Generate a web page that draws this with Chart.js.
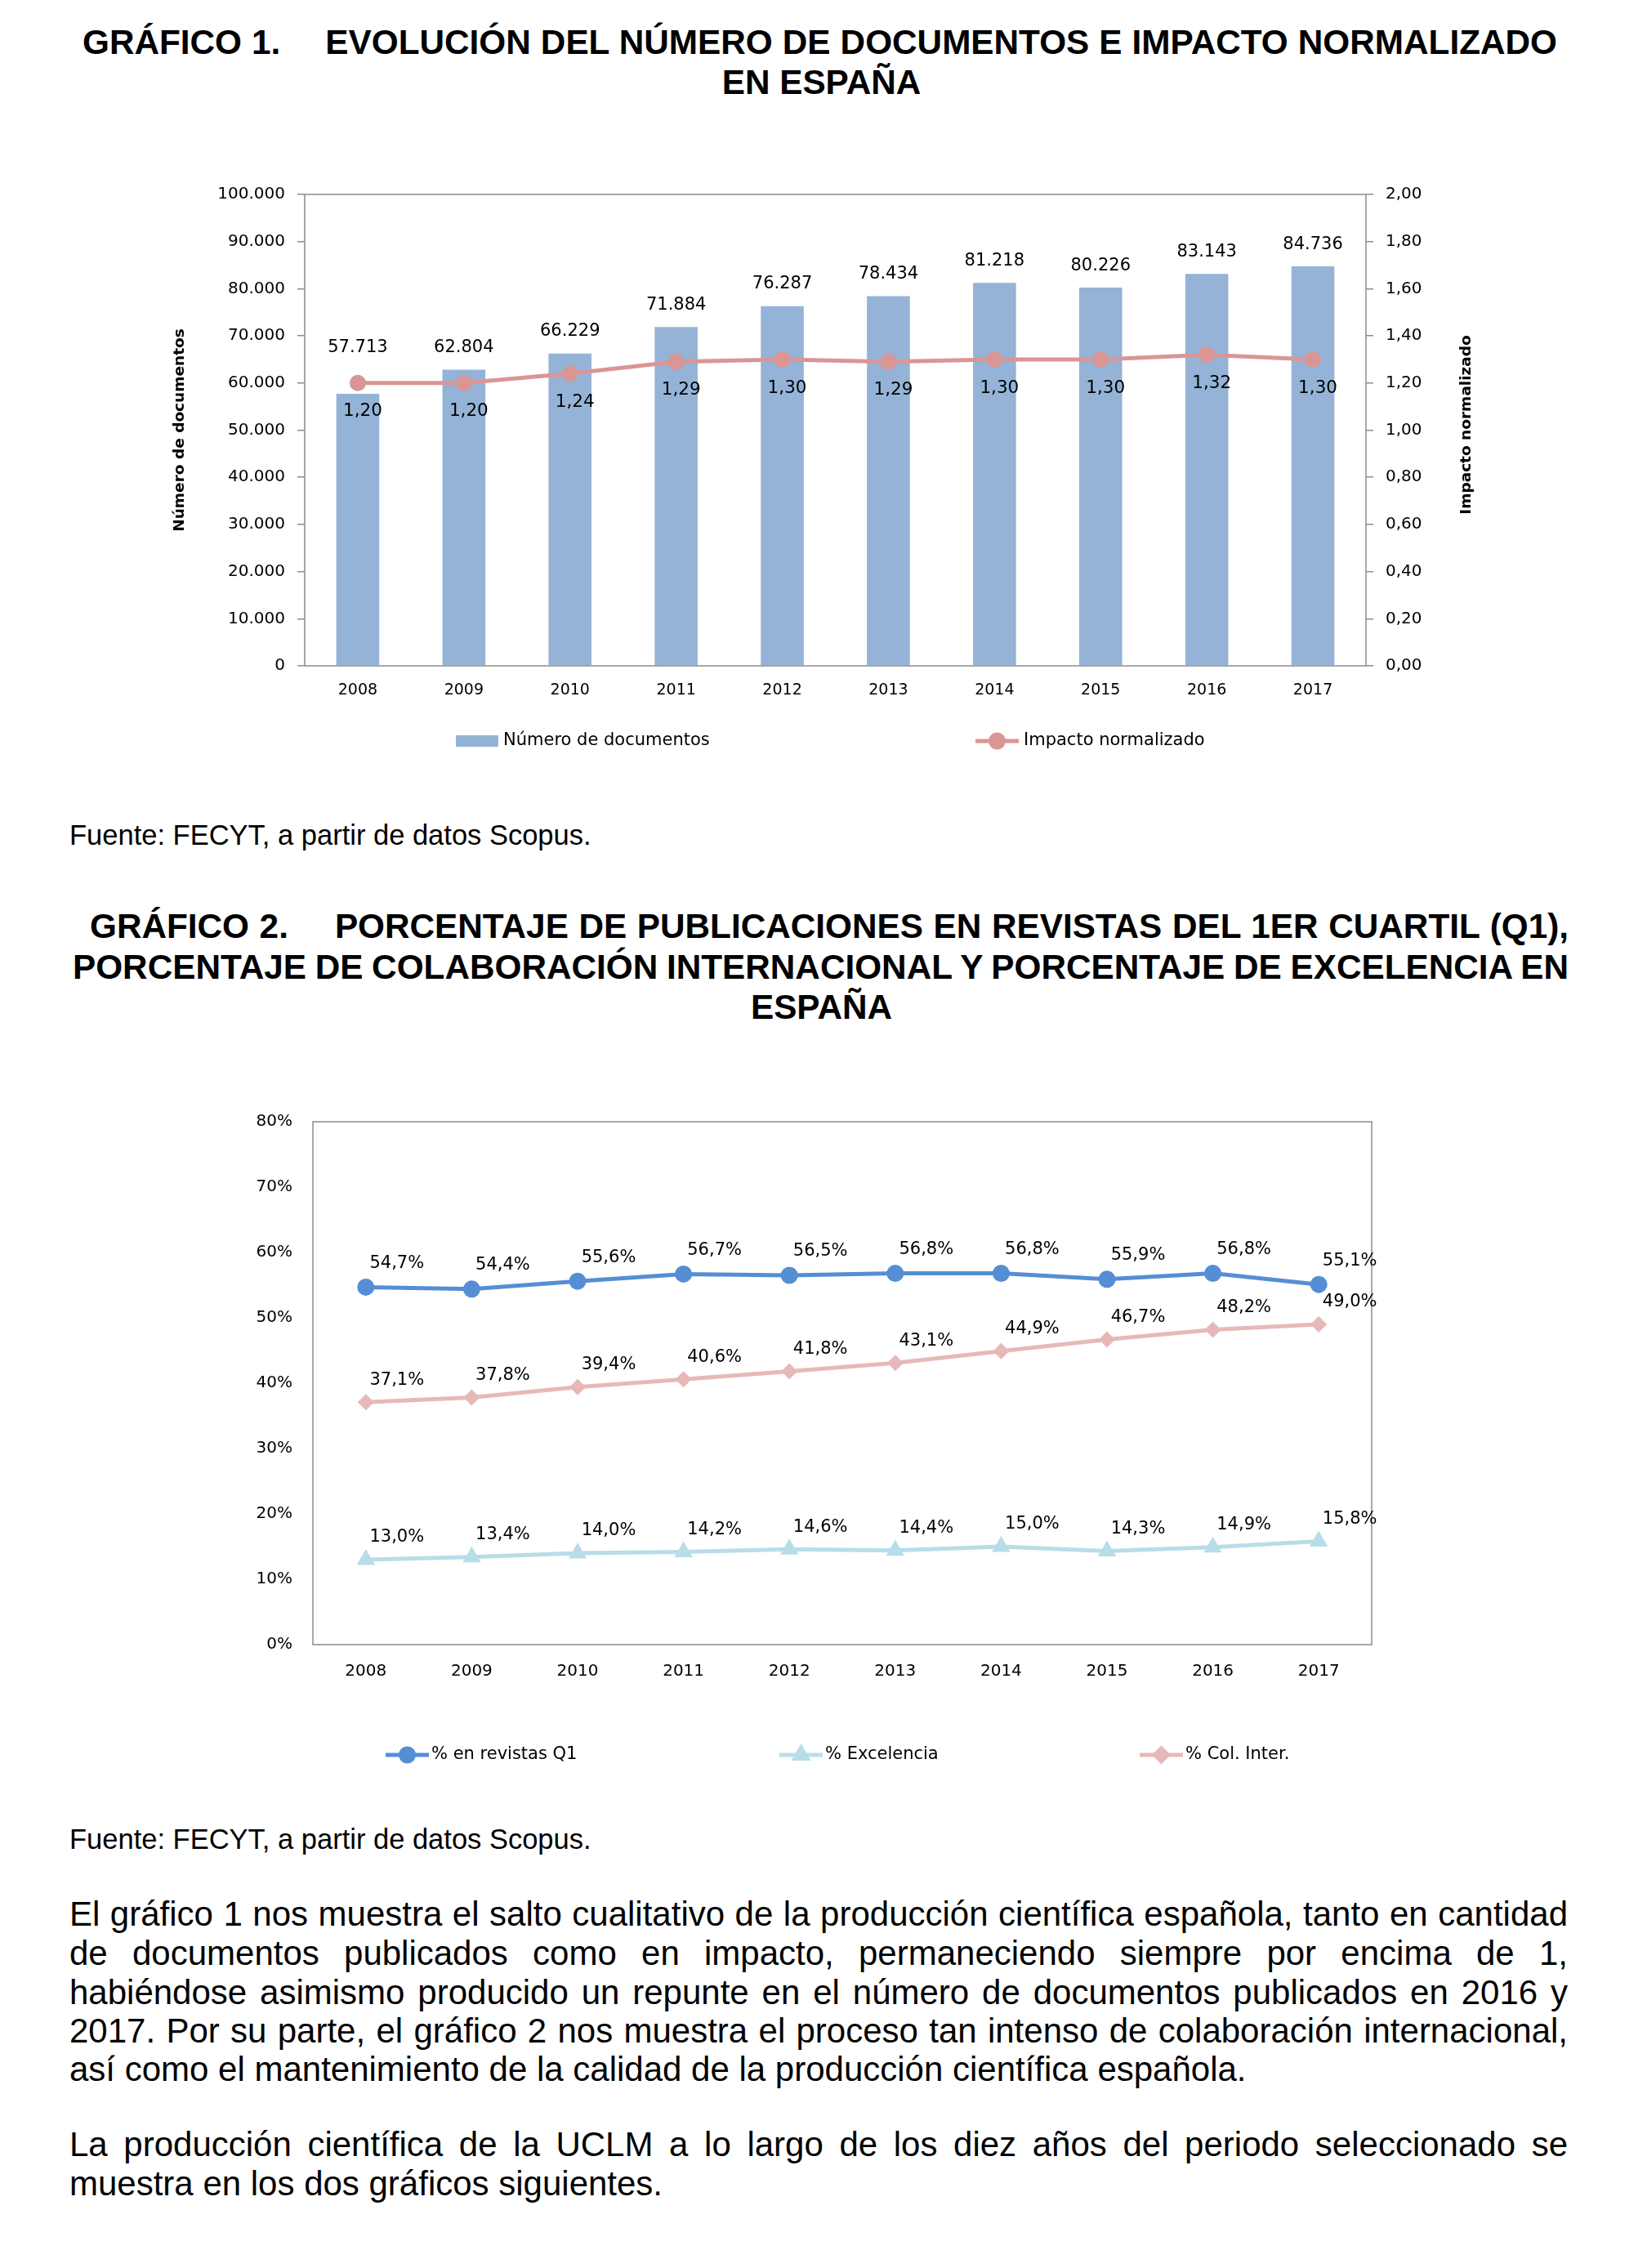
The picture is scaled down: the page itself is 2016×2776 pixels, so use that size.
<!DOCTYPE html>
<html lang="es"><head><meta charset="utf-8">
<script src="https://cdn.jsdelivr.net/npm/chart.js@4.4.0/dist/chart.umd.min.js"></script>
<style>
html,body{margin:0;padding:0;background:#fff;}
body{width:2016px;height:2776px;position:relative;overflow:hidden;font-family:"Liberation Sans",Arial,sans-serif;color:#000;}
.t{position:absolute;font-weight:bold;font-size:42.3px;line-height:1.15;white-space:nowrap;}
.c{text-align:center;left:85px;width:1841px;}
.p{position:absolute;font-size:42px;line-height:1.15;white-space:nowrap;left:85px;}
.f{position:absolute;left:85px;font-size:34.5px;line-height:1.15;white-space:nowrap;}
.gap{display:inline-block;}
#c1wrap{position:absolute;left:0;top:150px;width:2016px;height:820px;}
#c2wrap{position:absolute;left:0;top:1300px;width:2016px;height:900px;}
</style></head>
<body>
<div class="t" style="left:101px;top:28px;" data-w="1805">GRÁFICO 1.<span class="gap" style="width:55px"></span>EVOLUCIÓN DEL NÚMERO DE DOCUMENTOS E IMPACTO NORMALIZADO</div>
<div class="t c" style="top:77px;">EN ESPAÑA</div>

<div id="c1wrap"><canvas id="c1"></canvas></div>

<div class="f" style="top:1003px;">Fuente: FECYT, a partir de datos Scopus.</div>

<div class="t" style="left:110px;top:1110px;" data-w="1810">GRÁFICO 2.<span class="gap" style="width:57px"></span>PORCENTAJE DE PUBLICACIONES EN REVISTAS DEL 1ER CUARTIL (Q1),</div>
<div class="t" style="left:89px;top:1160px;" data-w="1831">PORCENTAJE DE COLABORACIÓN INTERNACIONAL Y PORCENTAJE DE EXCELENCIA EN</div>
<div class="t c" style="top:1209px;">ESPAÑA</div>

<div id="c2wrap"><canvas id="c2"></canvas></div>

<div class="f" style="top:2232px;">Fuente: FECYT, a partir de datos Scopus.</div>

<div class="p" style="top:2319px;" data-w="1834">El gráfico 1 nos muestra el salto cualitativo de la producción científica española, tanto en cantidad</div>
<div class="p" style="top:2367px;" data-w="1834">de documentos publicados como en impacto, permaneciendo siempre por encima de 1,</div>
<div class="p" style="top:2415px;" data-w="1834">habiéndose asimismo producido un repunte en el número de documentos publicados en 2016 y</div>
<div class="p" style="top:2462px;" data-w="1834">2017. Por su parte, el gráfico 2 nos muestra el proceso tan intenso de colaboración internacional,</div>
<div class="p" style="top:2509px;">así como el mantenimiento de la calidad de la producción científica española.</div>

<div class="p" style="top:2601px;" data-w="1834">La producción científica de la UCLM a lo largo de los diez años del periodo seleccionado se</div>
<div class="p" style="top:2649px;">muestra en los dos gráficos siguientes.</div>

<script>
// ---------- DATA ----------
const years = ['2008','2009','2010','2011','2012','2013','2014','2015','2016','2017'];
const numDocumentos = [57713, 62804, 66229, 71884, 76287, 78434, 81218, 80226, 83143, 84736];
const impactoNormalizado = [1.20, 1.20, 1.24, 1.29, 1.30, 1.29, 1.30, 1.30, 1.32, 1.30];

const pctQ1 = [54.7, 54.4, 55.6, 56.7, 56.5, 56.8, 56.8, 55.9, 56.8, 55.1];
const pctExcelencia = [13.0, 13.4, 14.0, 14.2, 14.6, 14.4, 15.0, 14.3, 14.9, 15.8];
const pctColInter = [37.1, 37.8, 39.4, 40.6, 41.8, 43.1, 44.9, 46.7, 48.2, 49.0];

const docsTicks = [0, 10000, 20000, 30000, 40000, 50000, 60000, 70000, 80000, 90000, 100000];
const impactoTicks = [0, 0.2, 0.4, 0.6, 0.8, 1.0, 1.2, 1.4, 1.6, 1.8, 2.0];
const pctTicks = [0, 10, 20, 30, 40, 50, 60, 70, 80];

// ---------- text fitting (justified lines) ----------
document.querySelectorAll('[data-w]').forEach(el => {
  const target = +el.dataset.w;
  el.style.wordSpacing = '0px';
  const nat = el.getBoundingClientRect().width;
  const n = (el.textContent.match(/ /g) || []).length;
  if (n) el.style.wordSpacing = ((target - nat) / n) + 'px';
});

// ---------- helpers ----------
const fmtThousands = v => String(Math.round(v)).replace(/\B(?=(\d{3})+(?!\d))/g, '.');
const fmtDec = (v, d) => Number(v).toFixed(d).replace('.', ',');
const FONT = "'DejaVu Sans', 'Liberation Sans', sans-serif";
Chart.defaults.font.family = FONT;
Chart.defaults.color = '#000';

const frame = {
  id: 'frame',
  afterDatasetsDraw(chart, args, opts) {
    const {ctx, chartArea: a} = chart;
    ctx.save();
    ctx.strokeStyle = opts.color; ctx.lineWidth = opts.width;
    ctx.strokeRect(a.left, a.top, a.right - a.left, a.bottom - a.top);
    ctx.restore();
  }
};

// labels: placed relative to each element; optional "avoid" keeps a label above another dataset's marker
const valueLabels = {
  id: 'valueLabels',
  afterDatasetsDraw(chart, args, opts) {
    const ctx = chart.ctx;
    (opts.sets || []).forEach(s => {
      const meta = chart.getDatasetMeta(s.index);
      const data = chart.data.datasets[s.index].data;
      const avoidMeta = s.avoid != null ? chart.getDatasetMeta(s.avoid) : null;
      ctx.save();
      ctx.font = s.font; ctx.fillStyle = '#000';
      ctx.textAlign = 'center'; ctx.textBaseline = 'middle';
      meta.data.forEach((el, j) => {
        let y = el.y + s.dy;
        if (avoidMeta) y = Math.min(y, avoidMeta.data[j].y + s.avoidDy);
        ctx.fillText(s.format(data[j]), el.x + s.dx, y);
      });
      ctx.restore();
    });
  }
};

const excelLegend = {
  id: 'excelLegend',
  afterDraw(chart, args, opts) {
    const ctx = chart.ctx;
    (opts.items || []).forEach(it => {
      const ds = chart.data.datasets[it.index];
      ctx.save();
      if (ds.type === 'bar') {
        ctx.fillStyle = ds.backgroundColor;
        ctx.fillRect(it.x, it.y - 7, 52, 14);
      } else {
        ctx.strokeStyle = ds.borderColor; ctx.lineWidth = ds.borderWidth;
        ctx.beginPath(); ctx.moveTo(it.x, it.y); ctx.lineTo(it.x + 53, it.y); ctx.stroke();
        ctx.fillStyle = ds.backgroundColor; ctx.strokeStyle = ds.borderColor;
        Chart.helpers.drawPoint(ctx, {pointStyle: ds.pointStyle, radius: it.r, rotation: 0, borderWidth: 1}, it.x + 26.5, it.y);
      }
      ctx.font = opts.font; ctx.fillStyle = '#000';
      ctx.textAlign = 'left'; ctx.textBaseline = 'middle';
      ctx.fillText(ds.label, it.tx, it.y);
      ctx.restore();
    });
  }
};

const sideTitle = {
  id: 'sideTitle',
  afterDraw(chart, args, opts) {
    if (!opts.text) return;
    const ctx = chart.ctx;
    ctx.save();
    ctx.translate(opts.x, opts.y); ctx.rotate(-Math.PI / 2);
    ctx.font = opts.font; ctx.fillStyle = '#000';
    ctx.textAlign = 'center'; ctx.textBaseline = 'middle';
    ctx.fillText(opts.text, 0, 0);
    ctx.restore();
  }
};

const GRAY = '#8c8c8c';

// ---------- CHART 1 ----------
new Chart(document.getElementById('c1'), {
  data: {
    labels: years,
    datasets: [
      {type: 'bar', label: 'Número de documentos', data: numDocumentos, yAxisID: 'y',
       backgroundColor: '#95B3D7', barPercentage: 0.405, categoryPercentage: 1, order: 2},
      {type: 'line', label: 'Impacto normalizado', data: impactoNormalizado, yAxisID: 'y2',
       borderColor: '#D99694', backgroundColor: '#D99694', borderWidth: 5, tension: 0,
       pointStyle: 'circle', pointRadius: 10, pointHoverRadius: 10, pointBorderWidth: 0, order: 1}
    ]
  },
  options: {
    responsive: true, maintainAspectRatio: false, animation: false, devicePixelRatio: 1,
    layout: {padding: {top: 88, left: 209, right: 210, bottom: 95}},
    scales: {
      x: {grid: {display: false}, border: {display: false},
          ticks: {font: {size: 19}, padding: 11, color: '#000'},
          afterFit(s) { s.height = 60; }},
      y: {position: 'left', min: 0, max: 100000,
          afterBuildTicks(s) { s.ticks = docsTicks.map(v => ({value: v})); },
          ticks: {font: {size: 20}, padding: 15, color: '#000', callback: v => fmtThousands(v)},
          grid: {drawOnChartArea: false, tickLength: 9, color: GRAY, lineWidth: 1.5},
          border: {display: false},
          title: {display: true, text: 'Número de documentos', font: {size: 18.5, weight: 'bold'}, padding: 0},
          afterFit(s) { s.width = 164; }},
      y2: {position: 'right', min: 0, max: 2,
          afterBuildTicks(s) { s.ticks = impactoTicks.map(v => ({value: v})); },
          ticks: {font: {size: 20}, padding: 15, color: '#000', callback: v => fmtDec(v, 2)},
          grid: {drawOnChartArea: false, tickLength: 9, color: GRAY, lineWidth: 1.5},
          border: {display: false},
          afterFit(s) { s.width = 134; }}
    },
    plugins: {
      legend: {display: false}, tooltip: {enabled: false},
      frame: {color: GRAY, width: 1.5},
      valueLabels: {sets: [
        {index: 0, dx: 0, dy: -27, avoid: 1, avoidDy: -43, font: "21px " + FONT, format: v => fmtThousands(v)},
        {index: 1, dx: 6, dy: 35, font: "21.5px " + FONT, format: v => fmtDec(v, 2)}
      ]},
      excelLegend: {font: "21px " + FONT, items: [
        {index: 0, x: 558, y: 757, tx: 616},
        {index: 1, x: 1194, y: 757, tx: 1253, r: 8}
      ]},
      sideTitle: {text: 'Impacto normalizado', x: 1795, y: 370, font: "bold 18.5px " + FONT}
    }
  },
  plugins: [frame, valueLabels, excelLegend, sideTitle]
});

// ---------- CHART 2 ----------
new Chart(document.getElementById('c2'), {
  type: 'line',
  data: {
    labels: years,
    datasets: [
      {label: '% en revistas Q1', data: pctQ1, borderColor: '#558ED5', backgroundColor: '#558ED5',
       borderWidth: 5, tension: 0, pointStyle: 'circle', pointRadius: 10.5, pointHoverRadius: 10.5, pointBorderWidth: 0},
      {label: '% Excelencia', data: pctExcelencia, borderColor: '#B7DEE8', backgroundColor: '#B7DEE8',
       borderWidth: 5, tension: 0, pointStyle: 'triangle', pointRadius: 13, pointHoverRadius: 13, pointBorderWidth: 0},
      {label: '% Col. Inter.', data: pctColInter, borderColor: '#E6B9B8', backgroundColor: '#E6B9B8',
       borderWidth: 5, tension: 0, pointStyle: 'rectRot', pointRadius: 10, pointHoverRadius: 10, pointBorderWidth: 0}
    ]
  },
  options: {
    responsive: true, maintainAspectRatio: false, animation: false, devicePixelRatio: 1,
    layout: {padding: {top: 73, left: 300, right: 337, bottom: 127}},
    scales: {
      x: {offset: true, grid: {display: false, offset: true}, border: {display: false},
          ticks: {font: {size: 20}, padding: 13, color: '#000'},
          afterFit(s) { s.height = 60; }},
      y: {min: 0, max: 80,
          afterBuildTicks(s) { s.ticks = pctTicks.map(v => ({value: v})); },
          ticks: {font: {size: 20}, padding: 25, color: '#000', callback: v => v + '%'},
          grid: {display: false, drawTicks: false}, border: {display: false},
          afterFit(s) { s.width = 83; }}
    },
    plugins: {
      legend: {display: false}, tooltip: {enabled: false},
      frame: {color: GRAY, width: 1.5},
      valueLabels: {sets: [
        {index: 0, dx: 38, dy: -29, font: "21px " + FONT, format: v => fmtDec(v, 1) + '%'},
        {index: 1, dx: 38, dy: -27, font: "21px " + FONT, format: v => fmtDec(v, 1) + '%'},
        {index: 2, dx: 38, dy: -27, font: "21px " + FONT, format: v => fmtDec(v, 1) + '%'}
      ]},
      excelLegend: {font: "21px " + FONT, items: [
        {index: 0, x: 472, y: 848, tx: 528, r: 8},
        {index: 1, x: 954, y: 848, tx: 1010, r: 9},
        {index: 2, x: 1395, y: 848, tx: 1451, r: 8}
      ]}
    }
  },
  plugins: [frame, valueLabels, excelLegend]
});
</script>
</body></html>
